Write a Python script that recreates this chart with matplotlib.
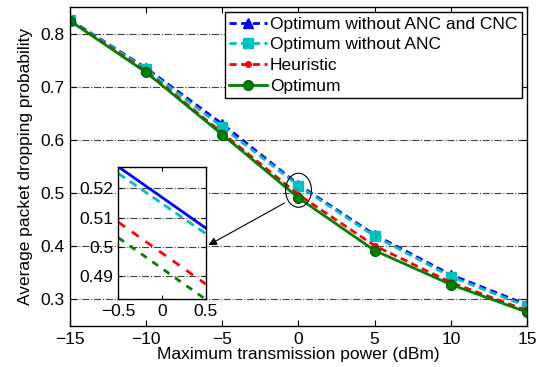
import matplotlib
matplotlib.use('Agg')
import matplotlib.pyplot as plt
from matplotlib.patches import Ellipse

plt.rcParams['font.family'] = ['Liberation Sans', 'DejaVu Sans']
plt.rcParams['axes.unicode_minus'] = True

# data
power_dbm = [-15, -10, -5, 0, 5, 10, 15]
opt_no_anc_cnc = [0.826, 0.735, 0.630, 0.516, 0.4215, 0.3465, 0.290]
opt_no_anc = [0.826, 0.733, 0.624, 0.514, 0.419, 0.343, 0.287]
heuristic = [0.825, 0.729, 0.613, 0.497, 0.401, 0.332, 0.279]
optimum = [0.824, 0.727, 0.610, 0.491, 0.392, 0.328, 0.276]

# zoomed inset values (read at -0.5 and 0.5 dBm)
zoom_dbm = [-0.5, 0.5]
zoom_no_anc_cnc = [0.5274, 0.5065]
zoom_no_anc = [0.5251, 0.5046]
zoom_heuristic = [0.5085, 0.4874]
zoom_optimum = [0.5032, 0.4822]

labels = ['Optimum without ANC and CNC', 'Optimum without ANC', 'Heuristic', 'Optimum']
yticks_main = [0.3, 0.4, 0.5, 0.6, 0.7, 0.8]
yticks_inset = [0.49, 0.5, 0.51, 0.52]
xticks_inset = [-0.5, 0, 0.5]

blue = (0, 0, 1)
cyan = (0, 0.75, 0.75)
red = (1, 0, 0)
green = (0, 0.5, 0)
fs = 12.5
dash = (2.6, 1.6)

fig = plt.figure(figsize=(5.36, 3.67), dpi=100)
ax = fig.add_axes([0.1306, 0.1117, 0.8526, 0.8692])

ax.plot(power_dbm, opt_no_anc_cnc, '--', dashes=dash, color=blue, lw=2, marker='^', ms=7.5, mfc=blue, mec=blue, label=labels[0])
ax.plot(power_dbm, opt_no_anc, '--', dashes=dash, color=cyan, lw=2, marker='s', ms=6.5, mfc=cyan, mec=cyan, label=labels[1])
ax.plot(power_dbm, heuristic, '--', dashes=dash, color=red, lw=2, marker='o', ms=4, mfc=red, mec=red, label=labels[2])
ax.plot(power_dbm, optimum, '-', color=green, lw=2, marker='o', ms=7, mfc=green, mec=(0, 0.4, 0), label=labels[3])

ax.set_xlim(-15, 15)
ax.set_ylim(0.25, 0.85)
ax.set_xticks(range(-15, 16, 5))
ax.set_yticks(yticks_main)
ax.yaxis.grid(True, linestyle='-.', color='0.25', lw=0.8)
ax.tick_params(direction='in', top=True, right=True, labelsize=fs, length=4, pad=4)
for s in ax.spines.values():
    s.set_linewidth(1)
ax.set_xlabel('Maximum transmission power (dBm)', fontsize=fs, labelpad=0)
ax.set_ylabel('Average packet dropping probability', fontsize=fs, labelpad=5)

leg = ax.legend(loc='upper right', fontsize=fs, frameon=True, fancybox=False,
                edgecolor='black', framealpha=1, borderpad=0.25, labelspacing=0.32,
                handlelength=2.15, handletextpad=0.2, borderaxespad=0.3)
leg.get_frame().set_linewidth(1)

# ellipse and arrow
ax.add_patch(Ellipse((0, 0.5053), 1.7, 0.064, fill=False, ec='black', lw=0.8, zorder=5))
ax.annotate('', xy=(-6.07, 0.3996), xytext=(-0.75, 0.484),
            arrowprops=dict(arrowstyle='-|>', color='black', lw=0.8, mutation_scale=12))

# zoomed inset
ins = fig.add_axes([0.2207, 0.1845, 0.163, 0.3613])
ins.plot(zoom_dbm, zoom_no_anc_cnc, '-', color=blue, lw=2)
ins.plot(zoom_dbm, zoom_no_anc, '--', color=cyan, lw=2, dashes=(3, 2))
ins.plot(zoom_dbm, zoom_heuristic, '--', color=red, lw=2, dashes=(3, 3))
ins.plot(zoom_dbm, zoom_optimum, '--', color=green, lw=2, dashes=(2.5, 2.5))
ins.set_xlim(-0.5, 0.5)
ins.set_ylim(0.4822, 0.5274)
ins.set_xticks(xticks_inset)
ins.set_xticklabels(['\u22120.5', '0', '0.5'])
ins.set_yticks(yticks_inset)
ins.set_yticklabels(['0.49', '0.5', '0.51', '0.52'])
ins.yaxis.grid(True, linestyle='-.', color='0.25', lw=0.8)
ins.tick_params(direction='in', top=True, right=True, labelsize=fs, length=3)
for s in ins.spines.values():
    s.set_linewidth(1)

fig.savefig('out.png', dpi=100)
